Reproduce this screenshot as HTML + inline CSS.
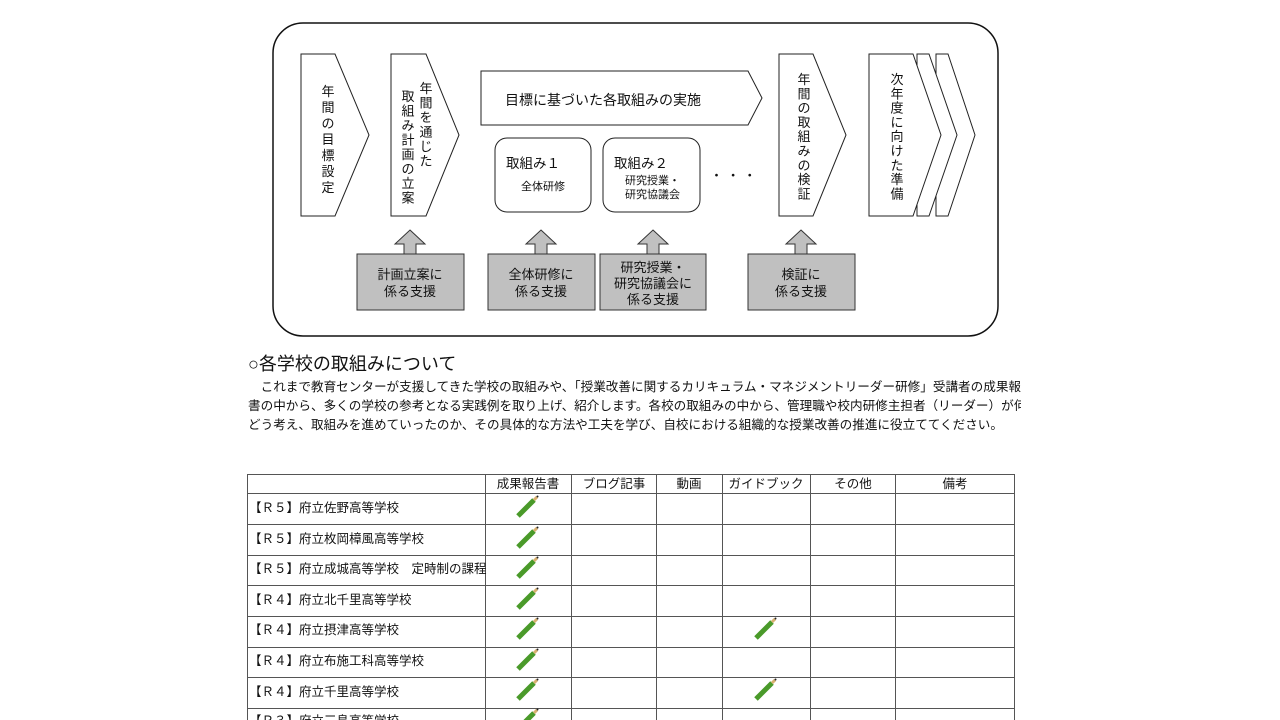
<!DOCTYPE html>
<html><head><meta charset="utf-8"><style>
body{margin:0;width:1280px;height:720px;overflow:hidden;background:#fff;font-family:"Liberation Sans","Noto Sans CJK JP",sans-serif;color:#111;position:relative}
svg text{font-family:"Liberation Sans","Noto Sans CJK JP",sans-serif;fill:#111}
.t{position:absolute;white-space:nowrap;overflow:hidden}
</style></head><body>
<svg width="1280" height="720" style="position:absolute;left:0;top:0">
<rect x="273" y="23" width="725" height="313" rx="30" fill="#fff" stroke="#111" stroke-width="1.5"/>
<g fill="#fff" stroke="#222" stroke-width="1">
<polygon points="301,54 335,54 369,135 335,216 301,216"/>
<polygon points="391,54 426,54 459,135 426,216 391,216"/>
<polygon points="481,71 748,71 762,98 748,125 481,125"/>
<rect x="495" y="138" width="96" height="74" rx="12"/>
<rect x="603" y="138" width="97" height="74" rx="12"/>
<polygon points="779,54 813,54 846,135 813,216 779,216"/>
<polygon points="936,54 948,54 975,135 948,216 936,216"/>
<polygon points="917,54 929,54 957,135 929,216 917,216"/>
<polygon points="869,54 913,54 941,135 913,216 869,216"/>
</g>
<g fill="#c0c0c0" stroke="#333" stroke-width="1">
<rect x="357" y="254" width="107" height="56"/>
<rect x="488" y="254" width="107" height="56"/>
<rect x="600" y="254" width="106" height="56"/>
<rect x="748" y="254" width="107" height="56"/>
<polygon points="410,230 425,244 416,244 416,254 404,254 404,244 395,244"/>
<polygon points="541,230 556,244 547,244 547,254 535,254 535,244 526,244"/>
<polygon points="653,230 668,244 659,244 659,254 647,254 647,244 638,244"/>
<polygon points="801,230 816,244 807,244 807,254 795,254 795,244 786,244"/>
</g>
<g font-size="13" text-anchor="middle">
<text x="328" y="96">年</text><text x="328" y="112">間</text><text x="328" y="128">の</text><text x="328" y="144">目</text><text x="328" y="160">標</text><text x="328" y="176">設</text><text x="328" y="192">定</text>
<text x="426" y="93">年</text><text x="426" y="107.5">間</text><text x="426" y="122">を</text><text x="426" y="136.5">通</text><text x="426" y="151">じ</text><text x="426" y="165.5">た</text>
<text x="408" y="101">取</text><text x="408" y="115.5">組</text><text x="408" y="130">み</text><text x="408" y="144.5">計</text><text x="408" y="159">画</text><text x="408" y="173.5">の</text><text x="408" y="188">立</text><text x="408" y="202.5">案</text>
<text x="804" y="84">年</text><text x="804" y="98.3">間</text><text x="804" y="112.6">の</text><text x="804" y="126.9">取</text><text x="804" y="141.2">組</text><text x="804" y="155.5">み</text><text x="804" y="169.8">の</text><text x="804" y="184.1">検</text><text x="804" y="198.4">証</text>
<text x="897" y="84">次</text><text x="897" y="98.3">年</text><text x="897" y="112.6">度</text><text x="897" y="126.9">に</text><text x="897" y="141.2">向</text><text x="897" y="155.5">け</text><text x="897" y="169.8">た</text><text x="897" y="184.1">準</text><text x="897" y="198.4">備</text>
</g>
<text x="505" y="105" font-size="14">目標に基づいた各取組みの実施</text>
<text x="506" y="168" font-size="13.5">取組み１</text>
<text x="521" y="190" font-size="11" fill="#444">全体研修</text>
<text x="614" y="168" font-size="13.5">取組み２</text>
<text x="625" y="184" font-size="11" fill="#444">研究授業・</text>
<text x="625" y="198" font-size="11" fill="#444">研究協議会</text>
<text x="710" y="180" font-size="13">・ ・ ・</text>
<g font-size="13" text-anchor="middle">
<text x="410" y="279">計画立案に</text><text x="410" y="296">係る支援</text>
<text x="541" y="279">全体研修に</text><text x="541" y="296">係る支援</text>
<text x="653" y="272">研究授業・</text><text x="653" y="288">研究協議会に</text><text x="653" y="304">係る支援</text>
<text x="801" y="279">検証に</text><text x="801" y="296">係る支援</text>
</g>
<g stroke="#555" stroke-width="1" fill="none">
<rect x="247.5" y="474.5" width="767" height="260"/>
<line x1="485.5" y1="474" x2="485.5" y2="720"/>
<line x1="571.5" y1="474" x2="571.5" y2="720"/>
<line x1="656.5" y1="474" x2="656.5" y2="720"/>
<line x1="722.5" y1="474" x2="722.5" y2="720"/>
<line x1="810.5" y1="474" x2="810.5" y2="720"/>
<line x1="895.5" y1="474" x2="895.5" y2="720"/>
<line x1="247" y1="493.5" x2="1014" y2="493.5"/>
<line x1="247" y1="524.5" x2="1014" y2="524.5"/>
<line x1="247" y1="555.5" x2="1014" y2="555.5"/>
<line x1="247" y1="585.5" x2="1014" y2="585.5"/>
<line x1="247" y1="616.5" x2="1014" y2="616.5"/>
<line x1="247" y1="647.5" x2="1014" y2="647.5"/>
<line x1="247" y1="677.5" x2="1014" y2="677.5"/>
<line x1="247" y1="708.5" x2="1014" y2="708.5"/>
</g>
<g font-size="12.5" text-anchor="middle">
<text x="528" y="488">成果報告書</text><text x="614" y="488">ブログ記事</text><text x="689" y="488">動画</text><text x="766" y="488">ガイドブック</text><text x="853" y="488">その他</text><text x="955" y="488">備考</text>
</g>
<g font-size="12.5">
<text x="249" y="512">【Ｒ５】府立佐野高等学校</text>
<text x="249" y="543">【Ｒ５】府立枚岡樟風高等学校</text>
<text x="249" y="573">【Ｒ５】府立成城高等学校　定時制の課程</text>
<text x="249" y="604">【Ｒ４】府立北千里高等学校</text>
<text x="249" y="634">【Ｒ４】府立摂津高等学校</text>
<text x="249" y="665">【Ｒ４】府立布施工科高等学校</text>
<text x="249" y="696">【Ｒ４】府立千里高等学校</text>
<text x="249" y="725">【Ｒ３】府立三島高等学校</text>
</g>
<defs><g id="p"><line x1="-9" y1="9" x2="7" y2="-7" stroke="#4a9a2a" stroke-width="5" stroke-linecap="butt"/><line x1="7" y1="-7" x2="10" y2="-10" stroke="#d8b070" stroke-width="3"/><circle cx="10.5" cy="-10.5" r="1" fill="#222"/></g></defs>
<use href="#p" x="527" y="507"/><use href="#p" x="527" y="538"/><use href="#p" x="527" y="568"/><use href="#p" x="527" y="599"/><use href="#p" x="527" y="629"/><use href="#p" x="527" y="660"/><use href="#p" x="527" y="690"/><use href="#p" x="527" y="720"/>
<use href="#p" x="765" y="629"/><use href="#p" x="765" y="690"/>
</svg>
<div class="t" style="left:248px;top:352px;font-size:18px;line-height:24px">○各学校の取組みについて</div>
<div class="t" style="left:248px;top:378px;width:773px;font-size:12.6px;line-height:19px;letter-spacing:0px">
<div>　これまで教育センターが支援してきた学校の取組みや、「授業改善に関するカリキュラム・マネジメントリーダー研修」受講者の成果報告</div>
<div>書の中から、多くの学校の参考となる実践例を取り上げ、紹介します。各校の取組みの中から、管理職や校内研修主担者（リーダー）が何を</div>
<div>どう考え、取組みを進めていったのか、その具体的な方法や工夫を学び、自校における組織的な授業改善の推進に役立ててください。</div>
</div>
</body></html>
